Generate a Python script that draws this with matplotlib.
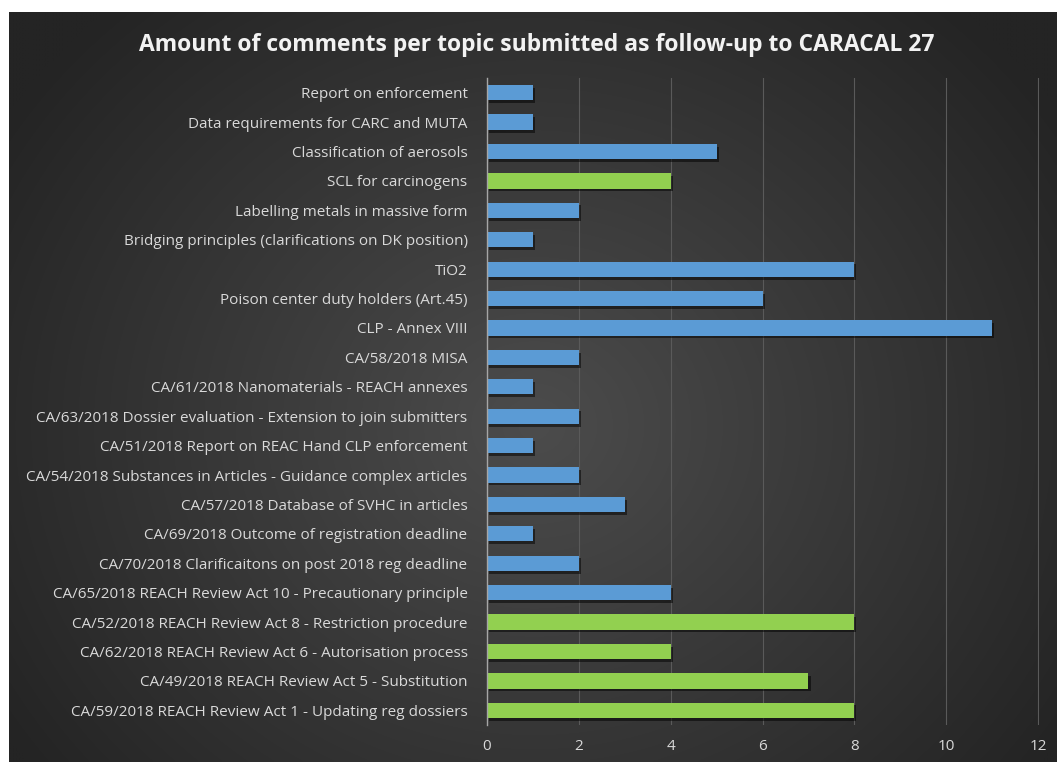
import numpy as np
import matplotlib
matplotlib.use("Agg")
import matplotlib.pyplot as plt
import matplotlib.patheffects as pe

categories = [
    "Report on enforcement",
    "Data requirements for CARC and MUTA",
    "Classification of aerosols",
    "SCL for carcinogens",
    "Labelling metals in massive form",
    "Bridging principles (clarifications on DK position)",
    "TiO2",
    "Poison center duty holders (Art.45)",
    "CLP - Annex VIII",
    "CA/58/2018 MISA",
    "CA/61/2018 Nanomaterials - REACH annexes",
    "CA/63/2018 Dossier evaluation - Extension to join submitters",
    "CA/51/2018 Report on REAC Hand CLP enforcement",
    "CA/54/2018 Substances in Articles - Guidance complex articles",
    "CA/57/2018 Database of SVHC in articles",
    "CA/69/2018 Outcome of registration deadline",
    "CA/70/2018 Clarificaitons on post 2018 reg deadline",
    "CA/65/2018 REACH Review Act 10 - Precautionary principle",
    "CA/52/2018 REACH Review Act 8 - Restriction procedure",
    "CA/62/2018 REACH Review Act 6 - Autorisation process",
    "CA/49/2018 REACH Review Act 5 - Substitution",
    "CA/59/2018 REACH Review Act 1 - Updating reg dossiers",
]
values = [1, 1, 5, 4, 2, 1, 8, 6, 11, 2, 1, 2, 1, 2, 3, 1, 2, 4, 8, 4, 7, 8]
highlight = [False, False, False, True, False, False, False, False, False, False, False,
             False, False, False, False, False, False, False, True, True, True, True]
xticks = [0, 2, 4, 6, 8, 10, 12]
title = "Amount of comments per topic submitted as follow-up to CARACAL 27"

BLUE = "#5b9bd5"
GREEN = "#92d050"

W, H = 1057, 762
fig = plt.figure(figsize=(W / 100, H / 100), dpi=100)
fig.patch.set_facecolor("white")

# background with radial gradient
bx0, by1 = 9 / W, 1 - 12 / H
bg = fig.add_axes([bx0, 0, 1 - bx0, by1])
ny, nx = 300, 420
yy, xx = np.mgrid[0:ny, 0:nx]
cx, cy = nx * 0.5, ny * 0.55
r = np.sqrt(((xx - cx) / (nx * 0.6)) ** 2 + ((yy - cy) / (ny * 0.75)) ** 2)
r = np.clip(r, 0, 1)
inner = np.array([0x4c, 0x4c, 0x4c]) / 255
outer = np.array([0x24, 0x24, 0x24]) / 255
img = inner[None, None, :] * (1 - r[..., None]) + outer[None, None, :] * r[..., None]
bg.imshow(img, aspect="auto", extent=[0, 1, 0, 1], interpolation="bilinear")
bg.set_axis_off()

# main axes
ax_left = 487 / W
ax_right = 1039 / W
ax_top = 1 - 78 / H
ax_bottom = 1 - 725 / H
ax = fig.add_axes([ax_left, ax_bottom, ax_right - ax_left, ax_top - ax_bottom])
ax.set_facecolor("none")

y = np.arange(len(categories))
colors = [GREEN if h else BLUE for h in highlight]
bars = ax.barh(y, values, height=0.52, color=colors, zorder=3)
for b in bars:
    b.set_path_effects([pe.SimplePatchShadow(offset=(1.5, -2), shadow_rgbFace="black", alpha=0.5),
                        pe.Normal()])

ax.set_ylim(len(categories) - 0.5, -0.5)
ax.set_xlim(0, 12.02)
ax.set_yticks(y)
ax.set_yticklabels(categories, fontfamily="Open Sans", fontsize=11, color="#d9d9d9")
ax.set_xticks(xticks)
ax.set_xticklabels([str(t) for t in xticks], fontfamily="Open Sans", fontsize=11, color="#d9d9d9")
ax.tick_params(axis="y", length=0, pad=14)
ax.tick_params(axis="x", length=0, pad=10)

ax.grid(axis="x", color="#5a5a5a", linewidth=0.8, zorder=0)
ax.set_axisbelow(True)
for s in ["top", "right", "bottom"]:
    ax.spines[s].set_visible(False)
ax.spines["left"].set_color("#a6a6a6")
ax.spines["left"].set_linewidth(1.0)
ax.spines["left"].set_zorder(4)

fig.text(537 / W, 1 - 45 / H, title, ha="center", va="center",
         fontfamily="Open Sans", fontweight="bold", fontsize=16.5, color="#f2f2f2")

fig.savefig("out.png", dpi=100, facecolor=fig.get_facecolor())
